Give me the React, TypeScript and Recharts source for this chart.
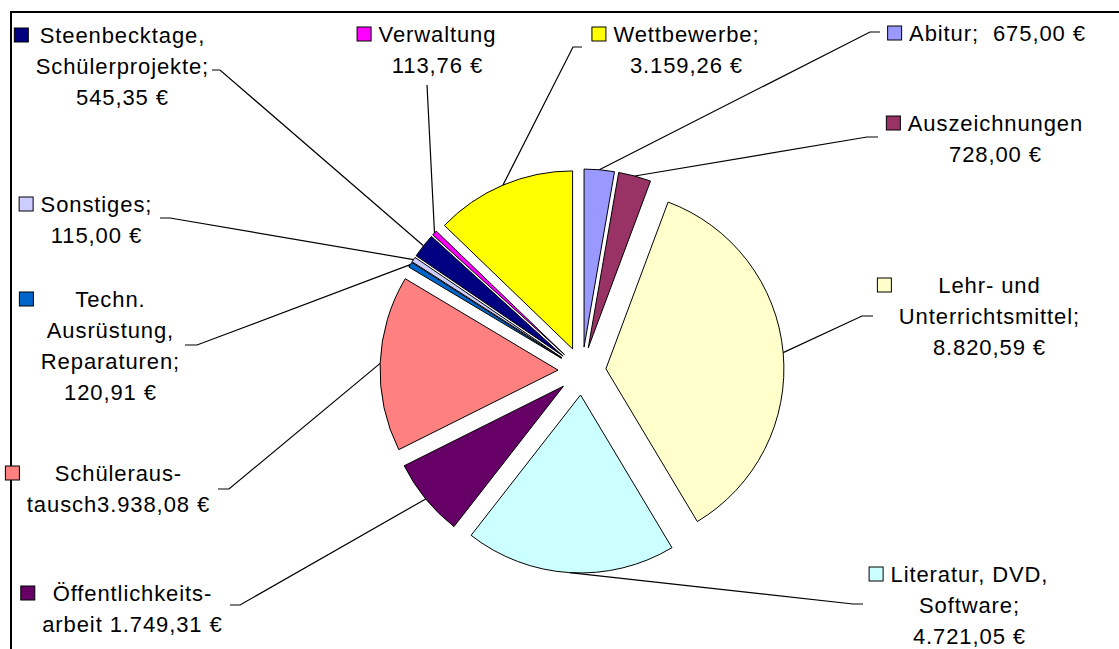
import { Cell, Pie, PieChart, Sector } from "recharts";

const CATEGORIES = [
  "Abitur",
  "Auszeichnungen",
  "Lehr- und Unterrichtsmittel",
  "Literatur, DVD, Software",
  "Öffentlichkeitsarbeit",
  "Schüleraustausch",
  "Techn. Ausrüstung, Reparaturen",
  "Sonstiges",
  "Steenbecktage, Schülerprojekte",
  "Verwaltung",
  "Wettbewerbe",
];
const AMOUNTS = [
  675, 728, 8820.59, 4721.05, 1749.31, 3938.08, 120.91, 115, 545.35, 113.76,
  3159.26,
];
const COLORS = [
  "#9999FF",
  "#993366",
  "#FFFFCC",
  "#CCFFFF",
  "#660066",
  "#FF8080",
  "#0066CC",
  "#CCCCFF",
  "#000080",
  "#FF00FF",
  "#FFFF00",
];
// label text as Excel wrapped it; {v} is replaced by the formatted amount
const LABEL_LINES = [
  ["Abitur;  {v}"],
  ["Auszeichnungen", "{v}"],
  ["Lehr- und", "Unterrichtsmittel;", "{v}"],
  ["Literatur, DVD,", "Software;", "{v}"],
  ["Öffentlichkeits-", "arbeit {v}"],
  ["Schüleraus-", "tausch{v}"],
  ["Techn.", "Ausrüstung,", "Reparaturen;", "{v}"],
  ["Sonstiges;", "{v}"],
  ["Steenbecktage,", "Schülerprojekte;", "{v}"],
  ["Verwaltung", "{v}"],
  ["Wettbewerbe;", "{v}"],
];

// layout of the dragged labels: [textCenterX, firstLineY, elbowX, elbowY, tailX]
const LABEL_BOX = [
  [997, 33, 870, 32, 880],
  [995, 123, 867, 137, 878],
  [989, 285, 862, 316, 873],
  [969, 574, 853, 604, 863],
  [132, 593, 240, 605, 230],
  [118, 473, 229, 489, 218],
  [110, 299, 197, 345, 185],
  [96, 204, 170, 218, 160],
  [122, 35, 220, 70, 212],
  [437, 34, 427, 85, 427],
  [686, 34, 573, 47, 582],
];

const W = 1119;
const H = 649;
const CX = 582;
const CY = 371;
const RADIUS = 178;
const EXPLODE = 24;
const FONT = "'Liberation Sans', Arial, sans-serif";
const FONT_SIZE = 22;
const SPACING = 0.9;
const LINE_H = 31;

const data = CATEGORIES.map((name, i) => ({ name, value: AMOUNTS[i] }));

function fmt(v: number) {
  const [int, dec] = v.toFixed(2).split(".");
  const grouped = int.replace(/\B(?=(\d{3})+(?!\d))/g, ".");
  return `${grouped},${dec} €`;
}

let ctx: CanvasRenderingContext2D | null = null;
function measure(s: string) {
  if (!ctx) ctx = document.createElement("canvas").getContext("2d");
  if (!ctx) return s.length * FONT_SIZE * 0.55;
  ctx.font = `${FONT_SIZE}px 'Liberation Sans'`;
  return ctx.measureText(s).width + SPACING * s.length;
}

function ExplodedSlice(props: any) {
  const { cx, cy, innerRadius, outerRadius, startAngle, endAngle, midAngle, fill } =
    props;
  const rad = (-midAngle * Math.PI) / 180;
  return (
    <Sector
      cx={cx + EXPLODE * Math.cos(rad)}
      cy={cy + EXPLODE * Math.sin(rad)}
      innerRadius={innerRadius}
      outerRadius={outerRadius}
      startAngle={startAngle}
      endAngle={endAngle}
      fill={fill}
      stroke="#000"
      strokeWidth={1}
    />
  );
}

function renderLabel(props: any) {
  const { cx, cy, midAngle, outerRadius, index } = props;
  const rad = (-midAngle * Math.PI) / 180;
  const ex = cx + (outerRadius + EXPLODE) * Math.cos(rad);
  const ey = cy + (outerRadius + EXPLODE) * Math.sin(rad);
  const [tx, ty, bx, by, hx] = LABEL_BOX[index];
  const lines = LABEL_LINES[index].map((l) => l.replace("{v}", fmt(AMOUNTS[index])));
  const left = tx - Math.max(...lines.map(measure)) / 2;
  return (
    <g key={`lbl-${index}`}>
      <polyline
        points={`${ex},${ey} ${bx},${by} ${hx},${by}`}
        fill="none"
        stroke="#000"
        strokeWidth={1.2}
      />
      <rect
        x={left - 21}
        y={ty - 7}
        width={14}
        height={14}
        fill={COLORS[index]}
        stroke="#000"
        strokeWidth={1}
      />
      {lines.map((l, i) => (
        <text
          key={i}
          x={tx + SPACING / 2}
          y={ty + i * LINE_H}
          textAnchor="middle"
          dominantBaseline="central"
          fill="#000"
          style={{
            fontFamily: FONT,
            fontSize: FONT_SIZE,
            letterSpacing: SPACING,
            whiteSpace: "pre",
          }}
        >
          {l}
        </text>
      ))}
    </g>
  );
}

export default function App() {
  return (
    <div
      style={{
        position: "absolute",
        left: 0,
        top: 0,
        width: W,
        height: H,
        overflow: "hidden",
        background: "#fff",
      }}
    >
      <div
        style={{
          position: "absolute",
          left: 10,
          top: 11,
          width: W + 40,
          height: H + 40,
          borderTop: "2px solid #000",
          borderLeft: "2px solid #000",
        }}
      />
      <div style={{ position: "absolute", left: 0, top: 0 }}>
        <PieChart width={W} height={H} margin={{ top: 0, right: 0, bottom: 0, left: 0 }}>
          <Pie
            data={data}
            dataKey="value"
            nameKey="name"
            cx={CX}
            cy={CY}
            outerRadius={RADIUS}
            startAngle={90}
            endAngle={-270}
            stroke="#000"
            strokeWidth={1}
            shape={ExplodedSlice}
            activeShape={ExplodedSlice}
            inactiveShape={ExplodedSlice}
            label={renderLabel}
            labelLine={false}
            isAnimationActive={false}
          >
            {data.map((d, i) => (
              <Cell key={d.name} fill={COLORS[i]} />
            ))}
          </Pie>
        </PieChart>
      </div>
    </div>
  );
}
